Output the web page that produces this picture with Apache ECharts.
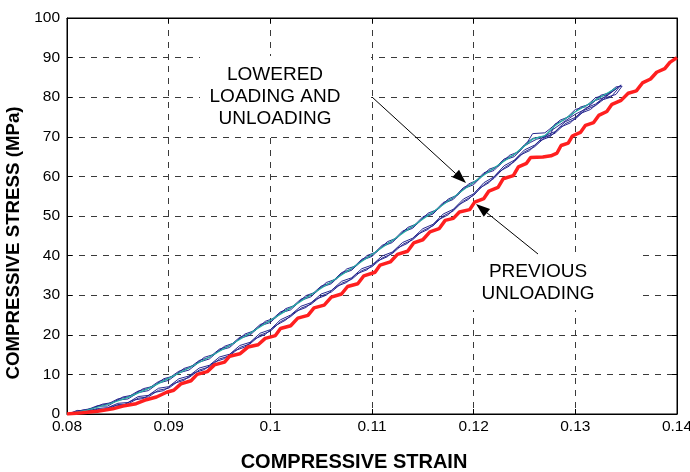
<!DOCTYPE html>
<html><head><meta charset="utf-8">
<script src="https://cdn.jsdelivr.net/npm/echarts@6/dist/echarts.min.js"></script>
<style>html,body{margin:0;padding:0;background:#fff}#c{width:690px;height:472px}</style>
</head><body><div id="c"></div>
<script>
// ---- axis ticks ----
const xTickLabels = ['0.08','0.09','0.1','0.11','0.12','0.13','0.14'];
const yTickLabels = ['0','10','20','30','40','50','60','70','80','90','100'];
const xTitle = 'COMPRESSIVE STRAIN';
const yTitle = 'COMPRESSIVE STRESS (MPa)';

// ---- lowered loading / unloading loops (strain, stress): up the loading branch, back down the unloading branch ----
const loopA = [[0.0805,0.3],[0.081,0.7],[0.082,1.1],[0.083,2.1],[0.084,2.5],[0.085,3.8],[0.086,4.3],[0.087,5.8],[0.088,6.4],[0.089,8.2],[0.090,9.0],[0.091,10.8],[0.092,11.6],[0.093,13.5],[0.094,14.3],[0.095,16.4],[0.096,17.2],[0.097,19.4],[0.098,20.3],[0.099,22.6],[0.100,23.5],[0.101,25.8],[0.102,26.7],[0.103,29.0],[0.104,30.0],[0.105,32.3],[0.106,33.2],[0.107,35.7],[0.108,36.6],[0.109,39.1],[0.110,40.1],[0.111,42.6],[0.112,43.6],[0.113,46.2],[0.114,47.2],[0.115,49.8],[0.116,50.8],[0.117,53.4],[0.118,54.5],[0.119,57.2],[0.120,58.3],[0.121,60.9],[0.122,61.9],[0.123,64.4],[0.124,65.4],[0.125,68.0],[0.1258,69.6],[0.1266,70.0],[0.1275,70.3],[0.128,73.2],[0.129,74.4],[0.130,76.9],[0.131,77.6],[0.132,79.9],[0.133,80.5],[0.134,82.6],[0.1346,82.8],
 [0.134,80.7],[0.133,79.9],[0.132,77.9],[0.131,76.8],[0.130,74.5],[0.129,73.3],[0.128,70.9],[0.127,69.8],[0.126,67.5],[0.125,66.2],[0.124,63.7],[0.123,62.2],[0.122,59.5],[0.121,57.9],[0.120,55.2],[0.119,53.8],[0.118,51.3],[0.117,50.0],[0.116,47.5],[0.115,46.3],[0.114,44.0],[0.113,42.8],[0.112,40.5],[0.111,39.4],[0.110,37.2],[0.109,36.2],[0.108,34.0],[0.107,33.0],[0.106,30.8],[0.105,29.8],[0.104,27.7],[0.103,26.7],[0.102,24.6],[0.101,23.3],[0.100,20.9],[0.099,19.9],[0.098,17.7],[0.097,16.8],[0.096,14.7],[0.095,13.9],[0.094,11.9],[0.093,11.1],[0.092,9.2],[0.091,8.4],[0.090,6.5],[0.089,6.0],[0.088,4.3],[0.087,4.0],[0.086,2.5],[0.085,2.4],[0.084,1.2],[0.083,1.2],[0.082,0.4],[0.081,0.4],[0.0805,0.2]];
const loopB = [[0.0808,0.4],[0.0815,1.0],[0.0825,1.4],[0.0835,2.5],[0.0845,2.9],[0.0855,4.3],[0.0865,4.8],[0.0875,6.4],[0.0885,7.0],[0.0895,8.9],[0.0905,9.6],[0.0915,11.5],[0.0925,12.3],[0.0935,14.3],[0.0945,15.1],[0.0955,17.1],[0.0965,18.0],[0.0975,20.2],[0.0985,21.1],[0.0995,23.4],[0.1005,24.3],[0.1015,26.6],[0.1025,27.5],[0.1035,29.9],[0.1045,30.8],[0.1055,33.2],[0.1065,34.1],[0.1075,36.6],[0.1085,37.5],[0.1095,40.0],[0.1105,41.0],[0.1115,43.5],[0.1125,44.5],[0.1135,47.1],[0.1145,48.1],[0.1155,50.7],[0.1165,51.7],[0.1175,54.3],[0.1185,55.4],[0.1195,58.1],[0.1205,59.2],[0.1215,61.8],[0.1225,62.7],[0.1235,65.3],[0.1245,66.3],[0.1253,68.7],[0.1258,70.8],[0.127,71.0],[0.1275,72.0],[0.1285,74.2],[0.1295,75.2],[0.1305,77.5],[0.1315,78.3],[0.1325,80.5],[0.1335,81.2],[0.1345,83.1],
 [0.1335,80.0],[0.1325,79.2],[0.1315,76.9],[0.1305,75.9],[0.1295,73.5],[0.1285,72.4],[0.1275,70.0],[0.1265,69.0],[0.1255,66.5],[0.1245,65.3],[0.1235,62.6],[0.1225,61.2],[0.1215,58.4],[0.1205,56.9],[0.1195,54.2],[0.1185,52.8],[0.1175,50.3],[0.1165,49.0],[0.1155,46.6],[0.1145,45.4],[0.1135,43.1],[0.1125,41.9],[0.1115,39.7],[0.1105,38.6],[0.1095,36.4],[0.1085,35.4],[0.1075,33.2],[0.1065,32.2],[0.1055,30.0],[0.1045,29.0],[0.1035,26.9],[0.1025,25.9],[0.1015,23.7],[0.1005,22.3],[0.0995,20.1],[0.0985,19.0],[0.0975,16.9],[0.0965,16.0],[0.0955,14.0],[0.0945,13.1],[0.0935,11.2],[0.0925,10.4],[0.0915,8.5],[0.0905,7.7],[0.0895,5.9],[0.0885,5.4],[0.0875,3.9],[0.0865,3.5],[0.0855,2.2],[0.0845,2.0],[0.0835,1.0],[0.0825,1.0],[0.0815,0.3],[0.0806,0.3]];
const loopC = [[0.0803,0.2],[0.081,0.9],[0.082,0.8],[0.083,2.0],[0.084,2.0],[0.085,3.5],[0.086,3.8],[0.087,5.4],[0.088,5.9],[0.089,7.8],[0.090,8.5],[0.091,10.4],[0.092,11.1],[0.093,13.1],[0.094,13.9],[0.095,16.1],[0.096,16.8],[0.097,19.1],[0.098,19.9],[0.099,22.3],[0.100,23.1],[0.101,25.5],[0.102,26.3],[0.103,28.7],[0.104,29.6],[0.105,32.0],[0.106,32.9],[0.107,35.4],[0.108,36.3],[0.109,38.8],[0.110,39.8],[0.111,42.3],[0.112,43.3],[0.113,45.9],[0.114,46.9],[0.115,49.5],[0.116,50.5],[0.117,53.1],[0.118,54.2],[0.119,56.9],[0.120,57.9],[0.121,60.6],[0.122,61.5],[0.123,64.1],[0.124,65.0],[0.125,67.7],[0.1256,68.6],[0.1262,69.4],[0.127,69.9],[0.1275,71.4],[0.128,72.2],[0.129,74.0],[0.130,75.7],[0.131,77.0],[0.132,79.2],[0.133,80.1],[0.1342,82.5],
 [0.133,80.3],[0.132,78.3],[0.131,77.2],[0.130,74.9],[0.129,73.8],[0.128,71.3],[0.127,70.3],[0.126,67.9],[0.125,66.7],[0.124,64.1],[0.123,62.7],[0.122,59.9],[0.121,58.4],[0.120,55.6],[0.119,54.3],[0.118,51.7],[0.117,50.5],[0.116,47.9],[0.115,46.8],[0.114,44.4],[0.113,43.3],[0.112,40.9],[0.111,39.9],[0.110,37.6],[0.109,36.7],[0.108,34.4],[0.107,33.5],[0.106,31.2],[0.105,30.3],[0.104,28.1],[0.103,27.2],[0.102,25.0],[0.101,23.8],[0.100,21.3],[0.099,20.4],[0.098,18.1],[0.097,17.3],[0.096,15.1],[0.095,14.4],[0.094,12.3],[0.093,11.6],[0.092,9.6],[0.091,8.9],[0.090,6.9],[0.089,6.5],[0.088,4.7],[0.087,4.4],[0.086,2.9],[0.085,2.7],[0.084,1.6],[0.083,1.4],[0.082,0.7],[0.081,0.5],[0.0803,0.2]];
const loadingCyan = [[0.0806,0.3],[0.082,1.0],[0.084,2.4],[0.086,4.2],[0.088,6.4],[0.090,9.0],[0.092,11.6],[0.094,14.4],[0.096,17.3],[0.098,20.4],[0.100,23.6],[0.102,26.8],[0.104,30.1],[0.106,33.4],[0.108,36.8],[0.110,40.3],[0.112,43.8],[0.114,47.4],[0.116,51.0],[0.118,54.7],[0.120,58.5],[0.122,62.1],[0.124,65.6],[0.1258,69.4],[0.127,70.3],[0.128,72.8],[0.130,76.3],[0.132,79.3],[0.134,82.3]];

// ---- previous unloading (red) ----
const previousUnloading = [[0.08,0],[0.0815,0.3],[0.083,0.7],[0.0845,1.3],[0.0855,2.0],[0.0868,2.6],[0.0878,3.6],[0.0888,4.3],[0.0898,5.5],[0.0905,6.0],[0.0912,7.6],[0.0922,8.4],[0.0928,10.0],[0.0938,10.7],[0.0945,12.4],[0.0955,13.1],[0.096,14.6],[0.097,15.2],[0.0978,16.9],[0.0988,17.5],[0.0995,19.1],[0.1005,19.8],[0.101,21.6],[0.102,22.3],[0.1027,24.2],[0.1037,24.9],[0.1043,26.8],[0.1053,27.5],[0.106,29.5],[0.107,30.3],[0.1076,32.2],[0.1086,32.9],[0.1092,34.9],[0.1103,35.8],[0.1108,37.6],[0.1118,38.4],[0.1125,40.3],[0.1135,41.1],[0.1141,43.2],[0.115,44.0],[0.1157,46.0],[0.1166,46.8],[0.1172,48.9],[0.118,49.4],[0.1186,51.0],[0.1196,51.6],[0.1201,53.5],[0.121,54.4],[0.1215,56.3],[0.1224,57.2],[0.1229,59.4],[0.1239,60.2],[0.1244,62.4],[0.1252,63.3],[0.1256,64.8],[0.1268,64.9],[0.1276,65.2],[0.1282,65.9],[0.1286,67.8],[0.1293,68.4],[0.1297,70.2],[0.1305,71.1],[0.131,72.9],[0.1318,73.6],[0.1323,75.4],[0.1331,76.4],[0.1336,78.2],[0.1345,79.2],[0.1352,81.0],[0.136,81.6],[0.1366,83.6],[0.1374,84.6],[0.138,86.3],[0.1388,87.2],[0.1393,88.8],[0.14,90]];

const FONT = '"Liberation Sans", Arial, sans-serif';
const chart = echarts.init(document.getElementById('c'), null, {renderer: 'canvas'});

function fmtX(v){ const s = (+v.toFixed(2)).toString(); return xTickLabels.includes(s) ? s : ''; }
function fmtY(v){ const s = Math.round(v).toString(); return yTickLabels.includes(s) ? s : ''; }

function arrow(x1, y1, x2, y2) {
  const dx = x2 - x1, dy = y2 - y1, L = Math.hypot(dx, dy);
  const ux = dx / L, uy = dy / L, hl = 14, hw = 5;
  const bx = x2 - ux * hl, by = y2 - uy * hl;
  return [
    {type: 'line', z: 100, shape: {x1, y1, x2: bx, y2: by}, style: {stroke: '#000', lineWidth: 1}},
    {type: 'polygon', z: 100, shape: {points: [[x2, y2], [bx - uy * hw, by + ux * hw], [bx + uy * hw, by - ux * hw]]}, style: {fill: '#000'}}
  ];
}
function label(text, x, y) {
  return {type: 'text', z: 101, style: {text, x, y, textAlign: 'center', textVerticalAlign: 'middle', font: '19px ' + FONT, fill: '#000'}};
}

const navy = '#27288f';
const lineSeries = (name, data, color, width, z) => ({
  name, type: 'line', data, showSymbol: false, symbol: 'none', smooth: false, z,
  lineStyle: {color, width}, emphasis: {disabled: true}
});

chart.setOption({
  animation: false,
  backgroundColor: '#fff',
  grid: {left: 67, right: 13, top: 18, bottom: 58, containLabel: false, outerBoundsMode: 'none',
         show: true, borderColor: '#000', borderWidth: 1, backgroundColor: 'transparent'},
  xAxis: [{
    type: 'value', min: 0.08, max: 0.14, interval: 0.01, position: 'bottom',
    name: xTitle, nameLocation: 'middle', nameGap: 38,
    nameTextStyle: {fontFamily: FONT, fontWeight: 'bold', fontSize: 20, color: '#000', padding: [0, 36, 0, 0]},
    axisLine: {show: true, onZero: false, lineStyle: {color: '#000', width: 1}},
    axisTick: {show: true, inside: true, length: 5, lineStyle: {color: '#000'}},
    axisLabel: {formatter: fmtX, fontFamily: FONT, fontSize: 15.5, color: '#000', margin: 5},
    splitLine: {show: true, lineStyle: {color: '#3a3a3a', type: [6, 6], width: 1}}
  }, {
    type: 'value', min: 0.08, max: 0.14, interval: 0.01, position: 'top',
    axisLine: {show: true, onZero: false, lineStyle: {color: '#000'}},
    axisTick: {show: true, inside: true, length: 5, lineStyle: {color: '#000'}},
    axisLabel: {show: false}, splitLine: {show: false}
  }],
  yAxis: [{
    type: 'value', min: 0, max: 100, interval: 10, position: 'left',
    name: yTitle, nameLocation: 'middle', nameGap: 35,
    nameTextStyle: {fontFamily: FONT, fontWeight: 'bold', fontSize: 18.7, color: '#000', padding: [0, 54, 0, 0]},
    axisLine: {show: true, onZero: false, lineStyle: {color: '#000', width: 1}},
    axisTick: {show: true, inside: true, length: 5, lineStyle: {color: '#000'}},
    axisLabel: {formatter: fmtY, fontFamily: FONT, fontSize: 15.5, color: '#000', margin: 7},
    splitLine: {show: true, lineStyle: {color: '#3a3a3a', type: [6, 6], width: 1}}
  }, {
    type: 'value', min: 0, max: 100, interval: 10, position: 'right',
    axisLine: {show: true, onZero: false, lineStyle: {color: '#000'}},
    axisTick: {show: true, inside: true, length: 5, lineStyle: {color: '#000'}},
    axisLabel: {show: false}, splitLine: {show: false}
  }],
  series: [
    lineSeries('Loop A', loopA, navy, 1, 3),
    lineSeries('Loop B', loopB, navy, 1, 3),
    lineSeries('Loop C', loopC, navy, 1, 3),
    lineSeries('Lowered loading', loadingCyan, '#26b0a4', 1.2, 4),
    lineSeries('Previous unloading', previousUnloading, '#ff1f1f', 3.5, 5)
  ],
  graphic: [
    {type: 'rect', z: 99, shape: {x: 200, y: 56, width: 171, height: 78}, style: {fill: '#fff'}},
    {type: 'rect', z: 99, shape: {x: 442, y: 254, width: 198, height: 56}, style: {fill: '#fff'}},
    label('LOWERED', 275, 75),
    label('LOADING AND', 275, 97),
    label('UNLOADING', 275, 119),
    label('PREVIOUS', 538, 272),
    label('UNLOADING', 538, 294),
    ...arrow(372, 97, 466, 183),
    ...arrow(538, 254, 476, 204)
  ]
});
</script>
</body></html>
